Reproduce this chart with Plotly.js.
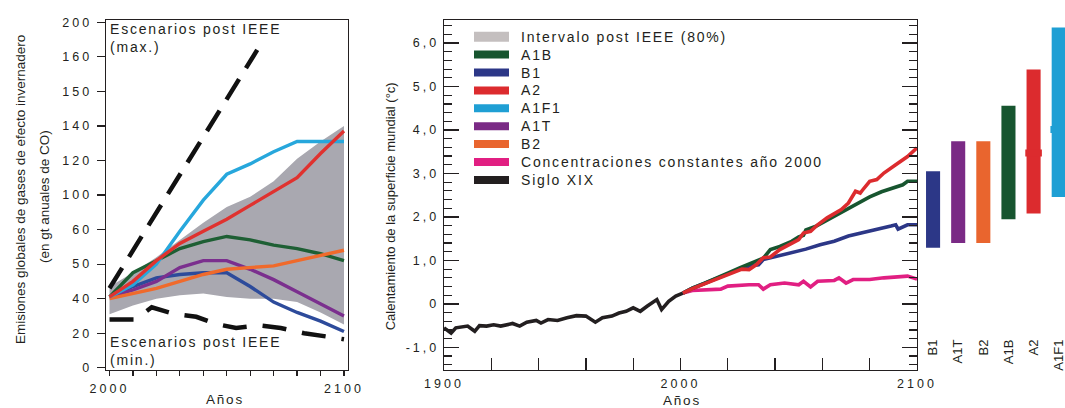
<!DOCTYPE html>
<html><head><meta charset="utf-8">
<script src="https://cdn.plot.ly/plotly-3.0.1.min.js"></script>
<style>
html,body{margin:0;padding:0;background:#fff;}
#chart{width:1065px;height:408px;}
.xtick text,.ytick text,.x2tick text,.y2tick text{letter-spacing:3px;}
text.annotation-text{letter-spacing:1.8px;}
.annotation[data-index="13"] text.annotation-text,.annotation[data-index="14"] text.annotation-text,.annotation[data-index="15"] text.annotation-text{letter-spacing:0;}
</style></head><body><div id="chart"></div>
<script>
// ---------- Left panel: global GHG emissions ----------
const emisYears = [2000,2010,2020,2030,2040,2050,2060,2070,2080,2090,2100];
const emisA1FI = [41,48,60,79,97,112,118,125,131,131,131];
const emisA2   = [41,50,62,72,79,86,94,102,110,124,137];
const emisA1B  = [41,55,62,69,73,76,74,71,69,66,62];
const emisA1T  = [41,45,50,58,62,62,57,51,44,37,30];
const emisB1   = [41,47,52,54,55,55,47,38,32,27,21];
const emisB2   = [40,43,46,50,54,57,58,59,62,65,68];
const bandUpper = [47,55,64,74,84,93,99,108,121,131,140];
const bandLower = [31,36,40,42,43,41,40,40,38,32,25];
const maxYears = [2000,2063];
const maxEmis  = [46,184];
const minYears = [2000,2011,2018,2028,2037,2045,2054,2064,2073,2083,2093,2100];
const minEmis  = [28,28,35,31,29.5,25.5,23,24.5,23,20,18,16.5];
const emisTickVals = [0,20,40,60,80,100,120,140,160,180,200];
const emisTickText = ['0','20','40','50','60','100','120','140','150','160','200'];

// ---------- Middle panel: global surface warming ----------
const histYears = [1900,1903,1905,1910,1913,1915,1918,1921,1924,1929,1932,1935,1939,1941,1944,1948,1952,1956,1960,1962,1964,1967,1971,1974,1977,1980,1983,1986,1990,1992,1995,1998,2001];
const histTemp  = [-0.55,-0.67,-0.55,-0.51,-0.63,-0.50,-0.51,-0.48,-0.51,-0.45,-0.51,-0.42,-0.38,-0.44,-0.36,-0.38,-0.32,-0.27,-0.28,-0.36,-0.42,-0.32,-0.28,-0.21,-0.17,-0.09,-0.17,-0.05,0.10,-0.13,0.06,0.18,0.25];
const constYears = [2001,2005,2017,2020,2029,2033,2035,2038,2044,2050,2052,2055,2058,2065,2067,2070,2073,2080,2086,2092,2096,2100];
const constTemp  = [0.25,0.31,0.34,0.41,0.44,0.44,0.34,0.44,0.48,0.44,0.52,0.39,0.52,0.54,0.60,0.48,0.56,0.56,0.60,0.62,0.64,0.57];
const b1Years = [2001,2005,2010,2015,2020,2025,2029,2033,2035,2041,2047,2050,2053,2059,2065,2071,2077,2083,2089,2091,2092,2096,2100];
const b1Temp  = [0.25,0.36,0.47,0.58,0.70,0.80,0.87,0.90,1.02,1.10,1.17,1.21,1.26,1.36,1.44,1.56,1.63,1.71,1.79,1.82,1.72,1.82,1.82];
const a1bYears = [2001,2005,2010,2015,2020,2025,2030,2035,2038,2042,2047,2050,2052,2053,2057,2062,2068,2074,2080,2085,2091,2094,2096,2100];
const a1bTemp  = [0.25,0.36,0.47,0.58,0.71,0.83,0.95,1.05,1.25,1.32,1.44,1.54,1.58,1.70,1.78,1.93,2.09,2.28,2.46,2.58,2.70,2.74,2.82,2.82];
const a2Years = [2001,2005,2012,2020,2026,2029,2032,2035,2038,2042,2047,2050,2052,2055,2058,2062,2068,2071,2074,2076,2077,2080,2083,2086,2091,2096,2100];
const a2Temp  = [0.25,0.35,0.50,0.67,0.80,0.79,0.90,1.06,1.08,1.25,1.40,1.48,1.63,1.67,1.82,1.98,2.17,2.32,2.59,2.55,2.62,2.82,2.86,3.01,3.20,3.39,3.59];
const tempTickVals = [-1,0,1,2,3,4,5,6];
const tempTickText = ['-1,0','0','1,0','2,0','3,0','4,0','5,0','6,0'];

// ---------- Right panel: likely ranges ----------
const scenarios = ['B1','A1T','B2','A1B','A2','A1F1'];
const rangeLow  = [1.29,1.40,1.40,1.95,2.08,2.46];
const rangeHigh = [3.05,3.74,3.74,4.56,5.39,6.36];
const bestEst   = [null,null,null,null,3.47,4.01];

// ---------- Legend ----------
const legendLabels = ['Intervalo post IEEE (80%)','A1B','B1','A2','A1F1','A1T','B2','Concentraciones constantes año 2000','Siglo XIX'];

const C = {grey:'#c4bfbf', band:'#a9a8b0', A1B:'#17552f', B1:'#2c3787', A2:'#dc2b2e', A1F1:'#1f9fd4', A1T:'#7a2a85', B2:'#e9652e', pink:'#e11f82', black:'#231f20'};
const legendColors = [C.grey,C.A1B,C.B1,C.A2,C.A1F1,C.A1T,C.B2,C.pink,C.black];
const barColors = [C.B1,C.A1T,C.B2,C.A1B,C.A2,C.A1F1];

const W = 1065, H = 408;
const px = v => v / W, py = v => 1 - v / H;

function line(x, y, color, width, ax, extra) {
  return Object.assign({type:'scatter', mode:'lines', x:x, y:y, xaxis:ax[0], yaxis:ax[1],
    line:{color:color, width:width}, hoverinfo:'skip'}, extra || {});
}
const L = ['x','y'], M = ['x2','y2'];

const traces = [
  {type:'scatter', mode:'lines', x:emisYears.concat(emisYears.slice().reverse()),
   y:bandUpper.concat(bandLower.slice().reverse()), fill:'toself', fillcolor:C.band,
   line:{width:0, color:C.band}, xaxis:'x', yaxis:'y', hoverinfo:'skip'},
  line(emisYears, emisB1, '#2d4b9b', 3.4, L),
  line(emisYears, emisA1T, '#7b2f8e', 3.4, L),
  line(emisYears, emisA1B, '#1e5f34', 3.4, L),
  line(emisYears, emisB2, '#f06a2b', 3.4, L),
  line(emisYears, emisA1FI, '#27a7dc', 3.4, L),
  line(emisYears, emisA2, '#e0322f', 3.4, L),
  line(maxYears, maxEmis, '#111', 4.5, L, {line:{color:'#111', width:4.5, dash:'24px,13px'}}),
  line(minYears, minEmis, '#111', 4.5, L, {line:{color:'#111', width:4.5, dash:'24px,16px'}}),
  line(histYears, histTemp, C.black, 3.6, M),
  line(constYears, constTemp, C.pink, 3.6, M),
  line(b1Years, b1Temp, C.B1, 3.6, M),
  line(a1bYears, a1bTemp, C.A1B, 3.6, M),
  line(a2Years, a2Temp, C.A2, 3.6, M),
  {type:'scatter', mode:'lines', x:[], y:[], xaxis:'x2', yaxis:'y4', hoverinfo:'skip'},
  {type:'bar', x:scenarios, base:rangeLow, y:rangeHigh.map((h,i)=>h-rangeLow[i]),
   marker:{color:barColors, line:{width:0}}, width:0.56, xaxis:'x3', yaxis:'y3', hoverinfo:'skip'},
  {type:'bar', x:scenarios.filter((s,i)=>bestEst[i]!==null),
   base:bestEst.filter(v=>v!==null).map(v=>v-0.08), y:bestEst.filter(v=>v!==null).map(()=>0.16),
   marker:{color:barColors.filter((c,i)=>bestEst[i]!==null)}, width:0.66, xaxis:'x3', yaxis:'y3', hoverinfo:'skip'}
];

const shapes = [], annotations = [];
legendLabels.forEach((lab, i) => {
  const yc = 36.7 + i * 17.9;
  const h = i === 0 ? 10 : 8;
  shapes.push({type:'rect', xref:'paper', yref:'paper', x0:px(474), x1:px(509), y0:py(yc + h/2), y1:py(yc - h/2),
    fillcolor:legendColors[i], line:{width:0}});
  annotations.push({xref:'paper', yref:'paper', x:px(519), y:py(yc), xanchor:'left', yanchor:'middle',
    text:lab, showarrow:false, font:{size:14}});
});
annotations.push({xref:'paper', yref:'paper', x:px(108), y:py(38), xanchor:'left', yanchor:'middle', align:'left',
  text:'Escenarios post IEEE<br>(max.)', showarrow:false, font:{size:14}});
annotations.push({xref:'paper', yref:'paper', x:px(108), y:py(351), xanchor:'left', yanchor:'middle', align:'left',
  text:'Escenarios post IEEE<br>(min.)', showarrow:false, font:{size:14}});
annotations.push({xref:'paper', yref:'paper', x:px(225), y:py(399), xanchor:'center', yanchor:'middle',
  text:'Años', showarrow:false, font:{size:13.5}});
annotations.push({xref:'paper', yref:'paper', x:px(682), y:py(400), xanchor:'center', yanchor:'middle',
  text:'Años', showarrow:false, font:{size:13.5}});
annotations.push({xref:'paper', yref:'paper', x:px(20), y:py(190), xanchor:'center', yanchor:'middle', textangle:-90,
  text:'Emisiones globales de gases de efecto invernadero', showarrow:false, font:{size:13.5}});
annotations.push({xref:'paper', yref:'paper', x:px(44), y:py(197), xanchor:'center', yanchor:'middle', textangle:-90,
  text:'(en gt anuales de CO)', showarrow:false, font:{size:13.5}});
annotations.push({xref:'paper', yref:'paper', x:px(390), y:py(207), xanchor:'center', yanchor:'middle', textangle:-90,
  text:'Calentamiento de la superficie mundial (°c)', showarrow:false, font:{size:13}});

const axLine = {showline:true, linecolor:'#231f20', linewidth:1.3, showgrid:false, zeroline:false, fixedrange:true,
  tickcolor:'#231f20', tickwidth:1.2, tickfont:{size:12.5}};
const domY = [py(370), py(20)];
const tempMinor = {tickmode:'linear', tick0:0, dtick:0.2, ticks:'inside', ticklen:8, tickcolor:'#231f20', tickwidth:1.2};

const layout = {
  width:W, height:H, margin:{l:0,r:0,t:0,b:0}, paper_bgcolor:'#fff', plot_bgcolor:'rgba(0,0,0,0)',
  font:{family:'"Liberation Sans", Arial, sans-serif', color:'#231f20'},
  showlegend:false, hovermode:false, barmode:'overlay',
  xaxis: Object.assign({}, axLine, {domain:[px(106), px(347.5)], anchor:'y', range:[1998.5,2101.5],
    tickmode:'array', tickvals:[2000,2100], ticktext:['2000','2100'], ticks:'outside', ticklen:5, mirror:true,
    ticklabelstandoff:2, minor:{tickmode:'linear', tick0:2000, dtick:10, ticks:'outside', ticklen:5, tickcolor:'#231f20', tickwidth:1.2}}),
  yaxis: Object.assign({}, axLine, {domain:domY, anchor:'x', range:[-1.3,201.3], tickmode:'array',
    tickvals:emisTickVals, ticktext:emisTickText, ticks:'outside', ticklen:8, mirror:true, ticklabelstandoff:2}),
  xaxis2: Object.assign({}, axLine, {domain:[px(444), px(917)], anchor:'y2', range:[1900,2100],
    tickmode:'array', tickvals:[1900,2000,2100], ticktext:['1900','2000','2100'], ticks:'inside', ticklen:12, mirror:true,
    ticklabelstandoff:2, minor:{tickmode:'linear', tick0:1900, dtick:20, ticks:'inside', ticklen:12, tickcolor:'#231f20', tickwidth:1.2}}),
  yaxis2: Object.assign({}, axLine, {domain:domY, anchor:'x2', range:[-1.52,6.53], tickmode:'array',
    tickvals:tempTickVals, ticktext:tempTickText, ticks:'inside', ticklen:15, mirror:'allticks', ticklabelstandoff:1,
    minor:tempMinor}),
  yaxis4: Object.assign({}, axLine, {domain:domY, anchor:'x2', overlaying:'y2', side:'right', range:[-1.52,6.53],
    tickmode:'array', tickvals:tempTickVals, ticks:'inside', ticklen:15, showticklabels:false, minor:tempMinor}),
  xaxis3: {domain:[px(920.5), 1], anchor:'free', position:py(336), type:'category', range:[-0.5,5.25],
    tickangle:-90, ticks:'', showline:false, showgrid:false, zeroline:false, fixedrange:true, tickfont:{size:13}},
  yaxis3: {domain:domY, anchor:'x3', range:[-1.52,6.53], visible:false, fixedrange:true},
  shapes:shapes, annotations:annotations
};

Plotly.newPlot('chart', traces, layout, {staticPlot:true, displayModeBar:false});
</script></body></html>
